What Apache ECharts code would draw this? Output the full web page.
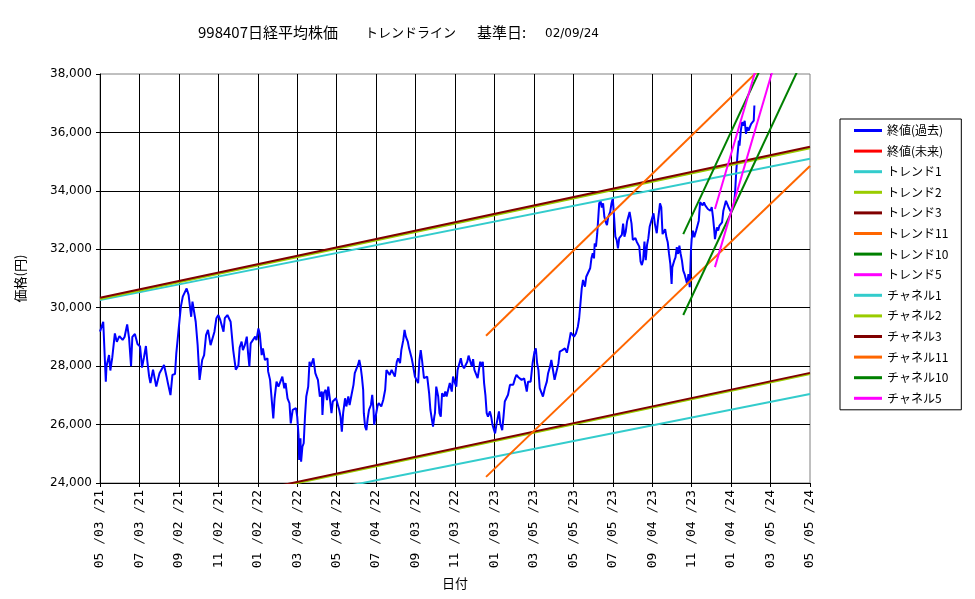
<!DOCTYPE html>
<html>
<head>
<meta charset="utf-8">
<script src="https://cdn.jsdelivr.net/npm/echarts@6/dist/echarts.min.js"></script>
<style>
  html, body { margin: 0; padding: 0; background: #fff; }
  #chart { width: 975px; height: 599px; }
</style>
</head>
<body>
<div id="chart"></div>
<script>
// x は 2021/05/03 からの経過日数
const baseDate = Date.UTC(2021, 4, 3);
const xMin = 0;
const xMax = 1098;
const xStep = 61;
const yMin = 24000;
const yMax = 38000;
const yStep = 2000;

const closeDays = [
  0, 5, 7, 9, 10, 14, 16, 19, 23, 26, 30, 35, 38, 42, 45, 48, 50, 54, 58, 62,
  65, 68, 71, 73, 76, 78, 82, 85, 87, 92, 95, 99, 103, 105, 109, 112, 116, 118, 121, 125,
  128, 131, 134, 137, 141, 143, 146, 148, 151, 154, 158, 161, 164, 167, 171, 174, 177, 180, 183, 186,
  191, 193, 197, 200, 202, 206, 210, 214, 216, 219, 221, 224, 227, 229, 231, 233, 236, 240, 242, 245,
  247, 250, 252, 255, 259, 260, 263, 265, 268, 270, 273, 276, 279, 282, 285, 287, 290, 293, 295, 298,
  300, 303, 305, 307, 308, 310, 311, 313, 315, 317, 319, 322, 324, 326, 328, 330, 333, 335, 337, 340,
  343, 344, 346, 349, 351, 353, 356, 358, 360, 362, 365, 367, 370, 372, 374, 376, 379, 381, 384, 386,
  389, 392, 394, 397, 399, 401, 403, 405, 407, 408, 410, 412, 414, 416, 419, 421, 423, 424, 427, 429,
  431, 433, 435, 438, 441, 443, 446, 448, 451, 453, 456, 459, 461, 464, 466, 469, 471, 473, 476, 478,
  480, 482, 484, 487, 490, 492, 494, 496, 498, 501, 503, 506, 509, 511, 513, 515, 517, 518, 520, 523,
  525, 527, 529, 532, 534, 536, 539, 541, 544, 546, 549, 551, 553, 556, 558, 560, 563, 565, 568, 570,
  572, 575, 577, 579, 581, 582, 584, 586, 588, 591, 592, 594, 596, 598, 600, 603, 605, 607, 609, 611,
  613, 615, 617, 619, 622, 624, 626, 629, 631, 634, 636, 639, 642, 644, 647, 649, 652, 656, 660, 662,
  666, 669, 672, 674, 676, 678, 680, 683, 685, 688, 691, 693, 696, 698, 701, 703, 706, 709, 711, 715,
  719, 722, 724, 726, 728, 731, 733, 736, 739, 741, 743, 745, 747, 750, 752, 755, 758, 760, 762, 764,
  765, 767, 769, 771, 772, 774, 776, 778, 780, 782, 784, 786, 789, 791, 793, 795, 797, 799, 801, 803,
  805, 807, 809, 811, 813, 815, 817, 819, 822, 824, 826, 828, 830, 832, 834, 836, 838, 840, 842, 844,
  846, 848, 850, 853, 856, 858, 861, 863, 866, 868, 870, 872, 874, 876, 878, 880, 882, 884, 885, 888,
  890, 892, 894, 896, 898, 900, 902, 904, 906, 908, 910, 912, 914, 915, 917, 919, 922, 924, 926, 928,
  930, 932, 934, 936, 938, 940, 942, 944, 946, 948, 950, 951, 954, 956, 958, 960, 962, 964, 966, 968,
  970, 972, 974, 976, 978, 980, 982, 984, 986, 988, 989, 991, 993, 995, 997, 999, 1001, 1003, 1005, 1007,
  1009, 1011, 1012
];
const closeValues = [
  29180, 29520, 29580, 27470, 27990, 28380, 27850, 28300, 29120, 28830, 29030, 28900, 29000, 29430, 28950, 28000, 29000, 29100, 28760, 28670,
  27950, 28300, 28690, 28210, 27640, 27420, 27880, 27930, 27300, 27760, 27880, 28040, 27640, 27420, 27010, 27700, 27730, 28440, 29120, 30030,
  30380, 30440, 30660, 30440, 29690, 30210, 30270, 29520, 28720, 27530, 28210, 28380, 29060, 29240, 28720, 28670, 29180, 29640, 29750, 29580,
  29180, 29640, 29750, 29810, 29520, 28550, 27880, 28020, 28640, 28840, 28550, 28720, 29010, 28440, 27990, 28780, 28720, 29010, 28890, 29290,
  29120, 28380, 28610, 28210, 28270, 27820, 27530, 27530, 26210, 26900, 27470, 27300, 27360, 27640, 27240, 27420, 26900, 26730, 26040, 26500,
  26450, 26560, 26270, 25640, 24790, 25530, 24730, 25240, 25360, 26270, 26960, 27300, 28150, 27990, 28040, 28270, 27760, 27640, 27530, 26960,
  27130, 26330, 27070, 27190, 26840, 27300, 26790, 26390, 26790, 26840, 26900, 26960, 26500, 26270, 25760, 26390, 26900, 26620, 26960, 26670,
  27020, 27360, 27760, 27930, 28040, 28210, 27990, 27640, 27190, 26390, 25930, 25810, 26210, 26500, 26670, 27020, 26500, 25990, 26040, 26620,
  26730, 26790, 26620, 26840, 27190, 27870, 27820, 27700, 27870, 27930, 27640, 28150, 28270, 28100, 28550, 28890, 29240, 29010, 28840, 28610,
  28670, 28270, 28040, 27640, 27590, 27420, 28210, 28550, 28210, 27590, 27640, 27640, 27070, 26500, 26210, 25930, 26270, 26390, 27300, 26960,
  26390, 26270, 27070, 26960, 27130, 26960, 27240, 27420, 27130, 27640, 27420, 27300, 27870, 27930, 28270, 28040, 27930, 27990, 28150, 28360,
  28210, 27990, 28240, 27870, 27930, 27870, 27590, 27870, 28150, 27990, 28150, 27420, 27020, 26390, 26270, 26450, 26270, 25990, 25930, 25700,
  25990, 26040, 26450, 26040, 25810, 26270, 26790, 26730, 27020, 27360, 27420, 27360, 27590, 27700, 27620, 27640, 27530, 27580, 27130, 27470,
  27470, 28100, 28500, 28610, 28100, 27870, 27250, 27190, 26960, 27250, 27470, 27760, 27990, 28210, 28270, 27530, 27530, 28100, 28500, 28550,
  28610, 28460, 28500, 28900, 29150, 29180, 29010, 29120, 29350, 29640, 30150, 30660, 30950, 30720, 31060, 31000, 31350, 31690, 31860, 31690,
  32200, 32090, 32550, 33230, 33570, 33660, 33430, 33570, 33110, 32940, 32830, 33110, 33280, 33570, 33750, 33110, 32430, 32320, 32030, 32380,
  32430, 32490, 32880, 32430, 32600, 32940, 33000, 33280, 32880, 32320, 32260, 32380, 32260, 32320, 32090, 31580, 31460, 31630, 32260, 31630,
  32150, 32380, 32770, 32720, 33230, 32880, 32550, 33000, 33570, 33440, 32520, 32460, 32690, 32410, 32240, 31840, 31500, 30810, 31380, 31610,
  31720, 32070, 31840, 32120, 31840, 31610, 31270, 31150, 30980, 30810, 31150, 30700, 32010, 32350, 32640, 32410, 32640, 32580, 32980, 33610,
  33610, 33500, 33610, 33500, 33550, 33380, 33440, 33320, 33440, 33100, 32640, 32350, 32750, 32640, 32810, 32750, 32920, 33320, 33270, 33660,
  33720, 33440, 33380, 33270, 33320, 33500, 33890, 34690, 35260, 35720, 35550, 36060, 36350, 36230, 36400, 35950, 36180, 36060, 36180, 36290,
  36350, 36400, 36920
];
const futureDays = [];
const futureValues = [];

const lineNames = [
  'トレンド1', 'トレンド2', 'トレンド3', 'トレンド11', 'トレンド10', 'トレンド5',
  'チャネル1', 'チャネル2', 'チャネル3', 'チャネル11', 'チャネル10', 'チャネル5'
];
const lineColors = [
  '#33CCCC', '#99CC00', '#800000', '#FF6600', '#008000', '#FF00FF',
  '#33CCCC', '#99CC00', '#800000', '#FF6600', '#008000', '#FF00FF'
];
const lineStartDays = [0, 0, 0, 597, 902, 951, 0, 0, 0, 597, 902, 951];
const lineStartValues = [30260, 30300, 30340, 29040, 32520, 33380, 22210, 22560, 22600, 24210, 29750, 31390];
const lineEndDays = [1098, 1098, 1098, 1098, 1098, 1098, 1098, 1098, 1098, 1098, 1098, 1098];
const lineEndValues = [35100, 35460, 35510, 39840, 41800, 44480, 27050, 27730, 27770, 34850, 39020, 42490];

const fontJP = '"Noto Sans CJK JP", "Noto Sans", sans-serif';
const titleStyle = (size) => ({ fontSize: size, fontWeight: 'normal', color: '#000', fontFamily: fontJP });

function pad2(n) { return (n < 10 ? '0' : '') + n; }
function dayLabel(d) {
  const dt = new Date(baseDate + d * 86400000);
  return pad2(dt.getUTCMonth() + 1) + ' /' + pad2(dt.getUTCDate()) + ' /' + pad2(dt.getUTCFullYear() % 100);
}

const series = [
  {
    name: '終値(過去)',
    type: 'line',
    showSymbol: false,
    lineStyle: { width: 2, color: '#0000FF' },
    itemStyle: { color: '#0000FF' },
    data: closeDays.map((d, i) => [d, closeValues[i]])
  },
  {
    name: '終値(未来)',
    type: 'line',
    showSymbol: false,
    lineStyle: { width: 2, color: '#FF0000' },
    itemStyle: { color: '#FF0000' },
    data: futureDays.map((d, i) => [d, futureValues[i]])
  }
];
lineNames.forEach((name, i) => {
  series.push({
    name: name,
    type: 'line',
    showSymbol: false,
    lineStyle: { width: 2, color: lineColors[i] },
    itemStyle: { color: lineColors[i] },
    data: [[lineStartDays[i], lineStartValues[i]], [lineEndDays[i], lineEndValues[i]]]
  });
});

const chart = echarts.init(document.getElementById('chart'));
chart.setOption({
  animation: false,
  backgroundColor: '#fff',
  textStyle: { fontFamily: fontJP },
  title: [
    { text: '998407日経平均株価', left: 198, top: 25, padding: 0, textStyle: titleStyle(15) },
    { text: 'トレンドライン', left: 365, top: 26, padding: 0, textStyle: titleStyle(13) },
    { text: '基準日:', left: 477, top: 25, padding: 0, textStyle: titleStyle(15) },
    { text: '02/09/24', left: 545, top: 28, padding: 0, textStyle: { fontSize: 12, fontWeight: 'normal', color: '#000', fontFamily: 'DejaVu Sans' } }
  ],
  legend: {
    orient: 'vertical',
    left: 840,
    top: 119,
    padding: [4, 13, 4, 14],
    itemGap: 5.6,
    itemWidth: 28,
    itemHeight: 3,
    icon: 'rect',
    borderColor: '#000',
    borderWidth: 1,
    selectedMode: false,
    textStyle: { fontSize: 12, lineHeight: 15, color: '#000', fontFamily: fontJP },
    data: series.map((s) => s.name)
  },
  grid: {
    left: 100,
    right: 165,
    top: 74,
    bottom: 116,
    show: true,
    borderColor: '#808080',
    borderWidth: 1
  },
  xAxis: {
    type: 'value',
    min: xMin,
    max: xMax,
    interval: xStep,
    name: '日付',
    nameLocation: 'middle',
    nameGap: 93,
    nameTextStyle: { fontSize: 13, color: '#000', fontFamily: fontJP },
    axisLine: { show: true, lineStyle: { color: '#000', width: 1 } },
    axisTick: { show: true, length: 4, lineStyle: { color: '#000' } },
    axisLabel: { rotate: 90, margin: 7, fontSize: 13, color: '#000', fontFamily: 'DejaVu Sans Mono', formatter: dayLabel },
    splitLine: { show: true, showMinLine: false, showMaxLine: false, lineStyle: { color: '#000', width: 1 } }
  },
  yAxis: {
    type: 'value',
    min: yMin,
    max: yMax,
    interval: yStep,
    name: '価格(円)',
    nameLocation: 'middle',
    nameRotate: 90,
    nameGap: 73,
    nameTextStyle: { fontSize: 13, color: '#000', fontFamily: fontJP },
    axisLine: { show: true, lineStyle: { color: '#000', width: 1 } },
    axisTick: { show: true, length: 4, lineStyle: { color: '#000' } },
    axisLabel: { margin: 8, fontSize: 12, color: '#000', fontFamily: 'DejaVu Sans', formatter: (v) => v.toLocaleString('en-US') },
    splitLine: { show: true, showMinLine: false, showMaxLine: false, lineStyle: { color: '#000', width: 1 } }
  },
  series: series
});
</script>
</body>
</html>
